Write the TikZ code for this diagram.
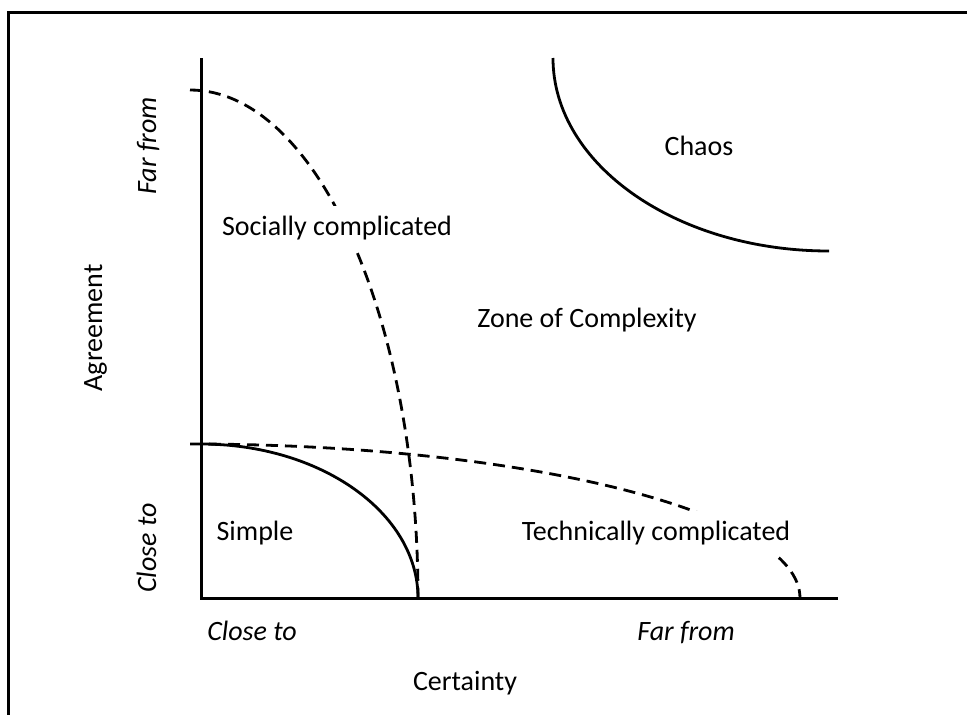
\documentclass[tikz,border=0pt]{standalone}
\usepackage{fontspec}
\setmainfont{Carlito}
\begin{document}
\begin{tikzpicture}[x=1pt,y=-1pt,
  every node/.style={font=\fontsize{28}{34}\selectfont,inner sep=0pt},
  lbl/.style={anchor=base},
  boxlbl/.style={anchor=base,fill=white,inner xsep=6pt,inner ysep=10pt},
  vlbl/.style={anchor=base,rotate=90},
  axisline/.style={line width=3pt},
  curve/.style={line width=2.8pt},
  dcurve/.style={line width=2.8pt,dash pattern=on 12pt off 7pt}]
\useasboundingbox (0,0) rectangle (967,715);
% frame
\draw[line width=3pt] (8,725) -- (8,12) -- (980,12);
% axes
\coordinate (ytop) at (201,58);
\coordinate (origin) at (201,598);
\coordinate (xend) at (838,598);
\draw[axisline] (ytop) -- (origin) -- (xend);
% simple boundary
\coordinate (s0) at (201,444);
\draw[curve] (s0) arc[start angle=-90,end angle=0,x radius=217,y radius=154];
% technically complicated boundary
\coordinate (t0) at (190,444);
\draw[dcurve] (t0) arc[start angle=-90,end angle=0,x radius=610,y radius=154];
% socially complicated boundary
\coordinate (c0) at (190,90);
\draw[dcurve] (c0) arc[start angle=-90,end angle=0,x radius=228,y radius=508];
% chaos boundary
\coordinate (h0) at (553,58);
\draw[curve] (h0) arc[start angle=180,end angle=90,x radius=276,y radius=193];
% labels
\node[lbl] (chaos) at (699,155) {Chaos};
\node[boxlbl] (social) at (337,235) {Socially complicated};
\node[lbl] (zone) at (587,327) {Zone of Complexity};
\node[lbl] (simple) at (255,540) {Simple};
\node[boxlbl] (tech) at (656,540) {Technically complicated};
\node[lbl] (xclose) at (252,640) {\itshape Close to};
\node[lbl] (xfar) at (686,640) {\itshape Far from};
\node[lbl] (xlab) at (465,690) {Certainty};
\node[vlbl] (yfar) at (156,146) {\itshape Far from};
\node[vlbl] (ylab) at (102,328) {Agreement};
\node[vlbl] (yclose) at (156,548) {\itshape Close to};
\end{tikzpicture}
\end{document}
